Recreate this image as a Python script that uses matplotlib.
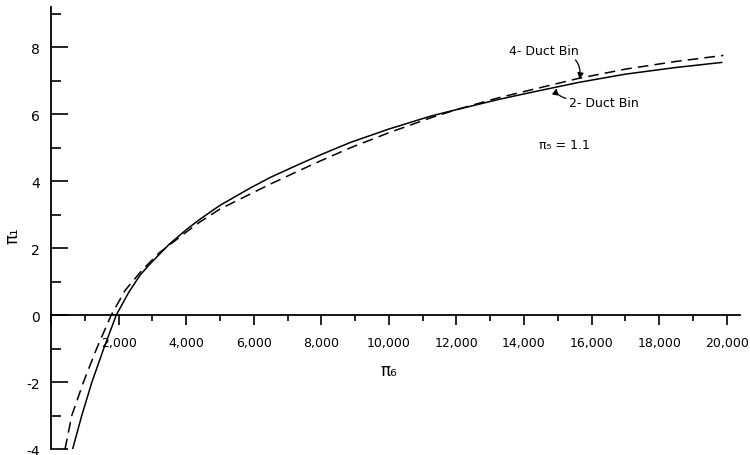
import matplotlib.pyplot as plt
from matplotlib.ticker import MultipleLocator, FuncFormatter

# pi_1 vs pi_6 for pi_5 = 1.1
pi6_2duct = [640, 910, 1210, 1560, 1930, 2300, 2640, 2920, 3500, 4000, 4400, 5000,
             5900, 6500, 7370, 8000, 8860, 10000, 11250, 12000, 13230, 14000,
             15600, 17000, 18500, 19850]
pi1_2duct = [-4.0, -3.0, -2.0, -1.0, 0.0, 0.68, 1.2, 1.52, 2.12, 2.55, 2.86, 3.28,
             3.8, 4.12, 4.52, 4.8, 5.16, 5.56, 5.95, 6.14, 6.44, 6.61,
             6.95, 7.2, 7.4, 7.55]

pi6_4duct = [415, 615, 960, 1350, 1780, 2200, 2700, 3200, 4000, 4400, 5000, 5900,
             6500, 7370, 8000, 8860, 10000, 11250, 12000, 13230, 14000, 15600,
             17000, 18500, 19900]
pi1_4duct = [-4.0, -3.0, -2.0, -1.0, 0.0, 0.75, 1.35, 1.86, 2.48, 2.78, 3.17, 3.62,
             3.92, 4.33, 4.62, 5.0, 5.45, 5.9, 6.14, 6.49, 6.68, 7.07,
             7.35, 7.58, 7.76]

fig = plt.figure(figsize=(7.5, 4.56), dpi=100)
ax = fig.add_axes([0.068, 0.013, 0.919, 0.969])

ax.plot(pi6_2duct, pi1_2duct, color='black', lw=1.1)
ax.plot(pi6_4duct, pi1_4duct, color='black', lw=1.1, dashes=(7, 4))

ax.set_xlim(0, 20400)
ax.set_ylim(-4, 9.2)

# axes drawn through the origin
ax.spines['top'].set_visible(False)
ax.spines['right'].set_visible(False)
ax.spines['bottom'].set_position(('data', 0))
ax.spines['left'].set_linewidth(1.3)
ax.spines['bottom'].set_linewidth(1.3)

ax.xaxis.set_major_locator(MultipleLocator(2000))
ax.xaxis.set_minor_locator(MultipleLocator(1000))
ax.yaxis.set_major_locator(MultipleLocator(2))
ax.yaxis.set_minor_locator(MultipleLocator(1))
ax.xaxis.set_major_formatter(FuncFormatter(lambda v, p: '' if v == 0 else f'{int(v):,}'))
ax.yaxis.set_major_formatter(FuncFormatter(lambda v, p: f'{int(v)}'))

ax.tick_params(axis='x', which='major', direction='out', length=7, width=1.2,
               labelsize=9, pad=8)
ax.tick_params(axis='x', which='minor', direction='out', length=4, width=1.2)
ax.tick_params(axis='y', which='major', direction='in', length=12, width=1.2,
               labelsize=10, pad=8)
ax.tick_params(axis='y', which='minor', direction='in', length=7, width=1.2)

ax.text(-1150, 2.4, 'π₁', rotation=90, fontsize=12, ha='center', va='center',
        clip_on=False)
ax.text(10000, -1.64, 'π₆', fontsize=12, ha='center', va='center')
ax.text(15190, 5.1, 'π₅ = 1.1', fontsize=9, ha='center', va='center')

ax.annotate('4- Duct Bin', xy=(15640, 7.05), xytext=(14600, 7.9),
            fontsize=9, ha='center', va='center',
            arrowprops=dict(arrowstyle='-|>', color='black', lw=0.9,
                            shrinkA=0, shrinkB=0,
                            connectionstyle='angle3,angleA=0,angleB=80'))
ax.annotate('2- Duct Bin', xy=(14960, 6.78), xytext=(16350, 6.36),
            fontsize=9, ha='center', va='center',
            arrowprops=dict(arrowstyle='-|>', color='black', lw=0.9,
                            shrinkA=0, shrinkB=0,
                            connectionstyle='angle3,angleA=180,angleB=80'))

fig.savefig('out.png', dpi=100)
